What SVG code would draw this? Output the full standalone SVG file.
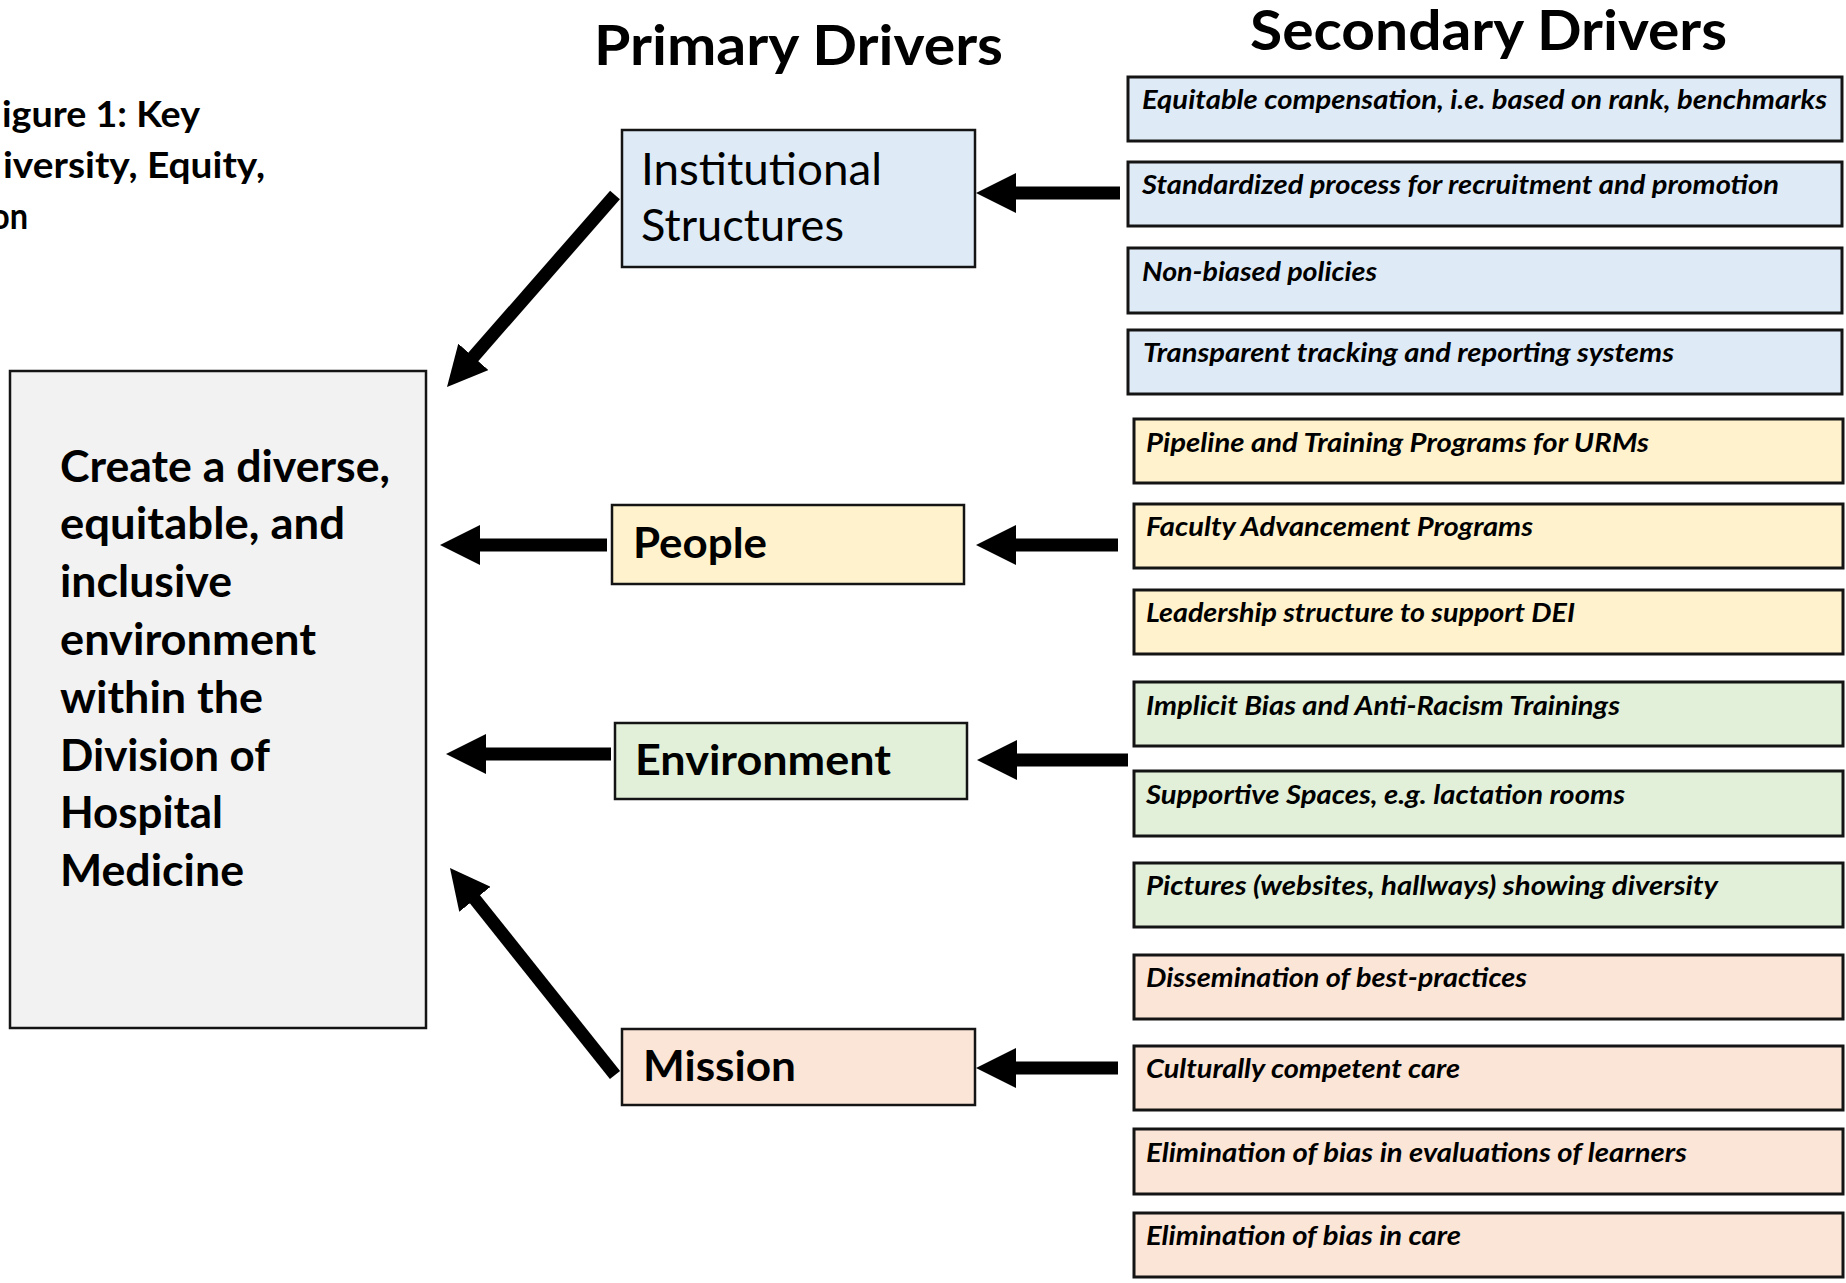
<svg xmlns="http://www.w3.org/2000/svg" width="1846" height="1283" viewBox="0 0 1846 1283">
  <defs>
    <marker id="head" viewBox="0 -20 40 40" markerWidth="40" markerHeight="40" refX="1" refY="0" orient="auto" markerUnits="userSpaceOnUse">
      <path d="M0,-20 L40,0 L0,20 Z" fill="#000"/>
    </marker>
    <style>
      .bg { fill: #ffffff; }
      .box { stroke: #141414; stroke-width: 2.5; }
      .sec { stroke: #141414; stroke-width: 3; }
      .goal { fill: #f2f2f2; }
      .blue { fill: #deebf7; }
      .gold { fill: #fff2cc; }
      .green { fill: #e2f0d9; }
      .orange { fill: #fbe5d6; }
      .head { font-family: Lato, "Liberation Sans", sans-serif; font-weight: bold; font-size: 56px; fill: #000; }
      .title { font-family: Lato, "Liberation Sans", sans-serif; font-weight: bold; font-size: 37px; fill: #000; }
      .gtext { font-family: Lato, "Liberation Sans", sans-serif; font-weight: bold; font-size: 43px; fill: #000; }
      .ptext { font-family: Lato, "Liberation Sans", sans-serif; font-weight: bold; font-size: 42px; fill: #000; }
      .itext { font-family: Lato, "Liberation Sans", sans-serif; font-weight: normal; font-size: 44px; fill: #000; }
      .stext { font-family: Lato, "Liberation Sans", sans-serif; font-weight: bold; font-style: italic; font-size: 26px; fill: #000; }
      .arrow { stroke: #000; stroke-width: 13; fill: none; marker-end: url(#head); }
    </style>
  </defs>

  <rect class="bg" x="0" y="0" width="1846" height="1283"/>

  <!-- figure caption, partly off the left edge -->
  <g id="caption">
    <text class="title" x="2" y="127" textLength="198" lengthAdjust="spacingAndGlyphs">igure 1: Key</text>
    <text class="title" x="3" y="178" textLength="262" lengthAdjust="spacingAndGlyphs">iversity, Equity,</text>
    <text class="title" x="-9" y="229" textLength="37" lengthAdjust="spacingAndGlyphs">on</text>
  </g>

  <!-- column headings -->
  <g id="headings">
    <text class="head" x="594" y="65" textLength="409" lengthAdjust="spacingAndGlyphs">Primary Drivers</text>
    <text class="head" x="1250" y="50" textLength="477" lengthAdjust="spacingAndGlyphs">Secondary Drivers</text>
  </g>

  <!-- aim -->
  <g id="aim">
    <rect class="box goal" x="10" y="371" width="416" height="657"/>
    <text class="gtext" x="60" y="481.5" textLength="330" lengthAdjust="spacingAndGlyphs">Create a diverse,</text>
    <text class="gtext" x="60" y="539.3" textLength="285" lengthAdjust="spacingAndGlyphs">equitable, and</text>
    <text class="gtext" x="60" y="597.1" textLength="172" lengthAdjust="spacingAndGlyphs">inclusive</text>
    <text class="gtext" x="60" y="654.9" textLength="256" lengthAdjust="spacingAndGlyphs">environment</text>
    <text class="gtext" x="60" y="712.7" textLength="203" lengthAdjust="spacingAndGlyphs">within the</text>
    <text class="gtext" x="60" y="770.5" textLength="210" lengthAdjust="spacingAndGlyphs">Division of</text>
    <text class="gtext" x="60" y="828.3" textLength="163" lengthAdjust="spacingAndGlyphs">Hospital</text>
    <text class="gtext" x="60" y="886.1" textLength="184" lengthAdjust="spacingAndGlyphs">Medicine</text>
  </g>

  <!-- primary drivers -->
  <g id="primary-institutional">
    <rect class="box blue" x="622" y="130" width="353" height="137"/>
    <text class="itext" x="641" y="185" textLength="241" lengthAdjust="spacingAndGlyphs">Institutional</text>
    <text class="itext" x="641" y="241" textLength="203" lengthAdjust="spacingAndGlyphs">Structures</text>
  </g>
  <g id="primary-people">
    <rect class="box gold" x="612" y="505" width="352" height="79"/>
    <text class="ptext" x="633" y="558" textLength="134" lengthAdjust="spacingAndGlyphs">People</text>
  </g>
  <g id="primary-environment">
    <rect class="box green" x="615" y="723" width="352" height="76"/>
    <text class="ptext" x="635" y="775" textLength="256" lengthAdjust="spacingAndGlyphs">Environment</text>
  </g>
  <g id="primary-mission">
    <rect class="box orange" x="622" y="1029" width="353" height="76"/>
    <text class="ptext" x="643" y="1081" textLength="153" lengthAdjust="spacingAndGlyphs">Mission</text>
  </g>

  <!-- secondary drivers: institutional structures -->
  <g id="sec-compensation">
    <rect class="sec blue" x="1128" y="77" width="714" height="64"/>
    <text class="stext" x="1142" y="109" textLength="685" lengthAdjust="spacingAndGlyphs">Equitable compensation, i.e. based on rank, benchmarks</text>
  </g>
  <g id="sec-standardized">
    <rect class="sec blue" x="1128" y="162" width="714" height="64"/>
    <text class="stext" x="1142" y="194" textLength="637" lengthAdjust="spacingAndGlyphs">Standardized process for recruitment and promotion</text>
  </g>
  <g id="sec-policies">
    <rect class="sec blue" x="1128" y="248" width="714" height="65"/>
    <text class="stext" x="1142" y="281" textLength="235" lengthAdjust="spacingAndGlyphs">Non-biased policies</text>
  </g>
  <g id="sec-tracking">
    <rect class="sec blue" x="1128" y="330" width="714" height="64"/>
    <text class="stext" x="1143" y="362" textLength="531" lengthAdjust="spacingAndGlyphs">Transparent tracking and reporting systems</text>
  </g>

  <!-- secondary drivers: people -->
  <g id="sec-pipeline">
    <rect class="sec gold" x="1134" y="419" width="709" height="64"/>
    <text class="stext" x="1146" y="452" textLength="503" lengthAdjust="spacingAndGlyphs">Pipeline and Training Programs for URMs</text>
  </g>
  <g id="sec-advancement">
    <rect class="sec gold" x="1134" y="504" width="709" height="64"/>
    <text class="stext" x="1146" y="536" textLength="387" lengthAdjust="spacingAndGlyphs">Faculty Advancement Programs</text>
  </g>
  <g id="sec-leadership">
    <rect class="sec gold" x="1134" y="590" width="709" height="64"/>
    <text class="stext" x="1146" y="622" textLength="429" lengthAdjust="spacingAndGlyphs">Leadership structure to support DEI</text>
  </g>

  <!-- secondary drivers: environment -->
  <g id="sec-training">
    <rect class="sec green" x="1134" y="682" width="709" height="64"/>
    <text class="stext" x="1146" y="715" textLength="474" lengthAdjust="spacingAndGlyphs">Implicit Bias and Anti-Racism Trainings</text>
  </g>
  <g id="sec-spaces">
    <rect class="sec green" x="1134" y="771" width="709" height="65"/>
    <text class="stext" x="1146" y="804" textLength="479" lengthAdjust="spacingAndGlyphs">Supportive Spaces, e.g. lactation rooms</text>
  </g>
  <g id="sec-pictures">
    <rect class="sec green" x="1134" y="863" width="709" height="64"/>
    <text class="stext" x="1146" y="895" textLength="572" lengthAdjust="spacingAndGlyphs">Pictures (websites, hallways) showing diversity</text>
  </g>

  <!-- secondary drivers: mission -->
  <g id="sec-dissemination">
    <rect class="sec orange" x="1134" y="955" width="709" height="64"/>
    <text class="stext" x="1146" y="987" textLength="381" lengthAdjust="spacingAndGlyphs">Dissemination of best-practices</text>
  </g>
  <g id="sec-culture">
    <rect class="sec orange" x="1134" y="1046" width="709" height="64"/>
    <text class="stext" x="1146" y="1078" textLength="314" lengthAdjust="spacingAndGlyphs">Culturally competent care</text>
  </g>
  <g id="sec-evaluations">
    <rect class="sec orange" x="1134" y="1129" width="709" height="65"/>
    <text class="stext" x="1146" y="1162" textLength="541" lengthAdjust="spacingAndGlyphs">Elimination of bias in evaluations of learners</text>
  </g>
  <g id="sec-care">
    <rect class="sec orange" x="1134" y="1213" width="709" height="64"/>
    <text class="stext" x="1146" y="1245" textLength="315" lengthAdjust="spacingAndGlyphs">Elimination of bias in care</text>
  </g>

  <!-- connectors -->
  <g id="connectors">
    <line class="arrow" x1="615" y1="195" x2="472.7" y2="357.6"/>
    <line class="arrow" x1="1120" y1="193" x2="1015" y2="193"/>
    <line class="arrow" x1="607" y1="545" x2="479" y2="545"/>
    <line class="arrow" x1="1118" y1="545" x2="1015" y2="545"/>
    <line class="arrow" x1="611" y1="754" x2="485" y2="754"/>
    <line class="arrow" x1="1128" y1="760" x2="1016" y2="760"/>
    <line class="arrow" x1="615" y1="1075" x2="474.3" y2="898.5"/>
    <line class="arrow" x1="1118" y1="1068" x2="1015" y2="1068"/>
  </g>
</svg>
